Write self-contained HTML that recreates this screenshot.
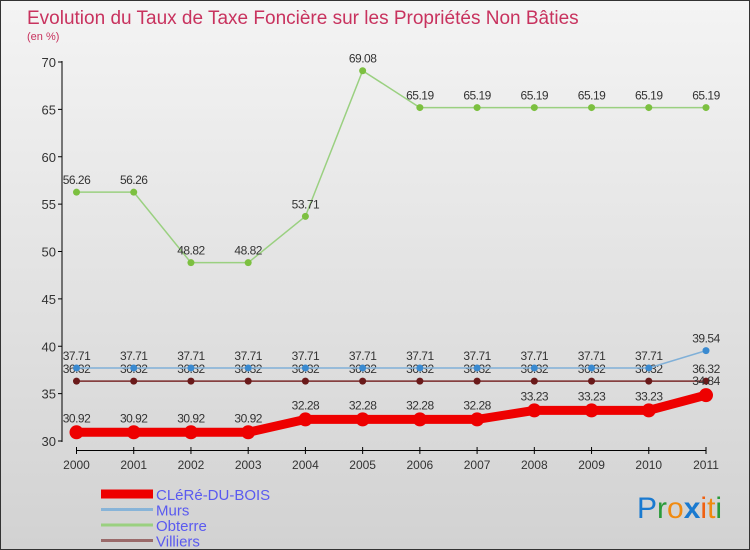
<!DOCTYPE html>
<html><head><meta charset="utf-8"><style>
body{margin:0}
#c{width:748px;height:548px;border:1px solid #333;background:linear-gradient(#f4f4f4,#d2d2d2);position:relative;font-family:"Liberation Sans",sans-serif;overflow:hidden}
</style></head><body>
<div id="c">
<svg id="s" width="748" height="548" xmlns="http://www.w3.org/2000/svg">
<text x="26" y="23" font-size="19" fill="#c8325e">Evolution du Taux de Taxe Foncière sur les Propriétés Non Bâties</text>
<text x="26" y="39" font-size="11" fill="#c8325e">(en %)</text>
<g id="g"></g>
<text x="636" y="517" font-size="30" font-family="Liberation Sans,sans-serif"><tspan fill="#1a7ad0">P</tspan><tspan fill="#2a9a3a">r</tspan><tspan fill="#f08a10">o</tspan><tspan fill="#1a7ad0" font-weight="bold">x</tspan><tspan fill="#f06010">i</tspan><tspan fill="#f08a10">t</tspan><tspan fill="#2a9a3a">i</tspan></text>
</svg></div>
<script>
const years=[2000,2001,2002,2003,2004,2005,2006,2007,2008,2009,2010,2011];
const clere=[30.92,30.92,30.92,30.92,32.28,32.28,32.28,32.28,33.23,33.23,33.23,34.84];
const murs=[37.71,37.71,37.71,37.71,37.71,37.71,37.71,37.71,37.71,37.71,37.71,39.54];
const obterre=[56.26,56.26,48.82,48.82,53.71,69.08,65.19,65.19,65.19,65.19,65.19,65.19];
const villiers=[36.32,36.32,36.32,36.32,36.32,36.32,36.32,36.32,36.32,36.32,36.32,36.32];
const yTicks=[30,35,40,45,50,55,60,65,70];
const NS="http://www.w3.org/2000/svg";
const g=document.getElementById('g');
const X=i=>75.5+i*(705-75.5)/(years.length-1);
const Y=v=>440-(v-30)*(440-61)/40;
function el(t,a,p){const e=document.createElementNS(NS,t);for(const k in a)e.setAttribute(k,a[k]);(p||g).appendChild(e);return e;}
// y axis
const ya=el('line',{x1:61,y1:60,x2:61,y2:441,stroke:'#000'});


yTicks.forEach(v=>{
 el('line',{x1:57,x2:61,y1:Y(v),y2:Y(v),stroke:'#000'});
 const t=el('text',{x:55,y:Y(v)+5,'font-size':13,'text-anchor':'end',fill:'#333'});t.textContent=v;
 
 
});
const xa=el('line',{x1:75.5,y1:449.5,x2:705,y2:449.5,stroke:'#000'});


years.forEach((yr,i)=>{
 el('line',{x1:X(i),x2:X(i),y1:446,y2:453,stroke:'#000'});
 const t=el('text',{x:X(i),y:468,'font-size':12,'text-anchor':'middle',fill:'#333'});t.textContent=yr;
 
 
});
function series(name,vals,color,w,r,ptColor,lblOff){
 const grp=el('g',{});
 
 
 el('polyline',{points:vals.map((v,i)=>X(i)+','+Y(v)).join(' '),fill:'none',stroke:color,'stroke-width':w},grp);
 vals.forEach((v,i)=>{
  const c=el('circle',{cx:X(i),cy:Y(v),r:r,fill:ptColor},grp);
  
  
  const t=el('text',{x:X(i),y:Y(v)+lblOff,'font-size':12,'text-anchor':'middle',fill:'#333','letter-spacing':'-0.5'},grp);
  t.textContent=v.toFixed(2);
  
  
 });
}
series('obterre',obterre,'#9ad080',1.5,3.5,'#7cc040',-8);
series('villiers',villiers,'#7a2a2a',1.5,3.5,'#6a1a1a',-8);
series('murs',murs,'#80b0d8',1.5,3.5,'#3a8ad0',-8);
series('clere',clere,'#ee0000',9,7,'#ee0000',-10);
const leg=[['CLéRé-DU-BOIS','#ee0000',9],['Murs','#88b4d8',3],['Obterre','#9ad080',3],['Villiers','#9a6a6a',3]];
leg.forEach((l,i)=>{
 const y=493+i*15.5;
 const ln=el('line',{x1:100,x2:152,y1:y,y2:y,stroke:l[1],'stroke-width':l[2]});
 
 
 const t=el('text',{x:155,y:y+6,'font-size':15,fill:'#5a5af0'});t.textContent=l[0];
 
 
});
</script>
</body></html>
